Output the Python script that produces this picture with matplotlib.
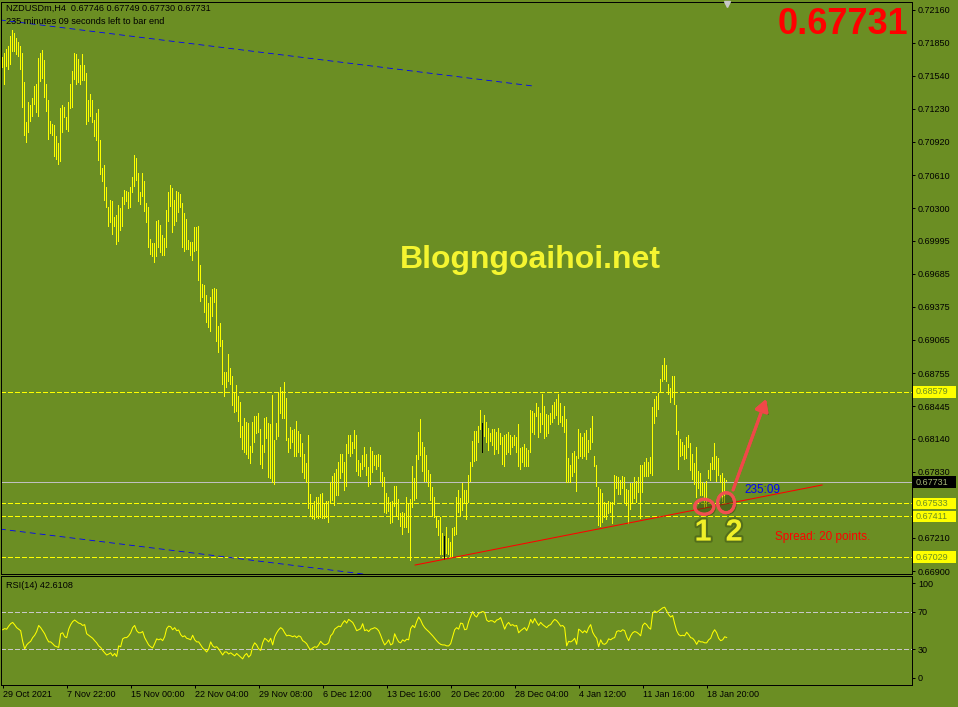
import matplotlib
matplotlib.use("Agg")
import matplotlib.pyplot as plt
import matplotlib.patheffects as pe
from matplotlib.patches import Ellipse, Rectangle, FancyArrowPatch
from matplotlib.transforms import blended_transform_factory

plt.rcParams['font.family'] = ['Liberation Sans', 'DejaVu Sans']

# NZDUSD H4 bars, prices in 1e-4 units (7172 -> 0.7172)
highs = [
    7172, 7175, 7179, 7182, 7191, 7197, 7194, 7189, 7186, 7182,
    7175, 7148, 7111, 7129, 7127, 7133, 7144, 7146, 7171, 7175,
    7178, 7169, 7146, 7131, 7112, 7109, 7108, 7098, 7091, 7124,
    7127, 7125, 7115, 7129, 7146, 7158, 7175, 7174, 7170, 7164,
    7174, 7164, 7157, 7131, 7137, 7131, 7113, 7119, 7123, 7094,
    7068, 7070, 7050, 7031, 7038, 7037, 7022, 7024, 7033, 7030,
    7040, 7047, 7046, 7045, 7050, 7059, 7080, 7077, 7063, 7045,
    7063, 7055, 7035, 7031, 7001, 6997, 6997, 7018, 7019, 7014,
    7005, 7002, 7028, 7045, 7052, 7049, 7038, 7046, 7045, 7043,
    7035, 7025, 7020, 7000, 6998, 6998, 7012, 7012, 7013, 6977,
    6959, 6958, 6949, 6941, 6947, 6954, 6955, 6954, 6920, 6922,
    6906, 6876, 6876, 6893, 6880, 6873, 6858, 6864, 6854, 6848,
    6826, 6833, 6830, 6829, 6807, 6830, 6835, 6835, 6838, 6823,
    6808, 6833, 6834, 6829, 6828, 6855, 6813, 6829, 6858, 6862,
    6859, 6867, 6852, 6815, 6825, 6822, 6823, 6831, 6821, 6818,
    6810, 6800, 6791, 6817, 6762, 6752, 6756, 6759, 6759, 6762,
    6763, 6754, 6756, 6756, 6773, 6779, 6782, 6786, 6792, 6800,
    6800, 6792, 6809, 6817, 6817, 6811, 6822, 6817, 6794, 6791,
    6799, 6806, 6800, 6787, 6806, 6802, 6799, 6799, 6800, 6799,
    6783, 6778, 6763, 6759, 6755, 6756, 6770, 6770, 6757, 6744,
    6745, 6744, 6759, 6754, 6757, 6788, 6777, 6799, 6820, 6832,
    6811, 6806, 6799, 6785, 6781, 6769, 6759, 6742, 6738, 6741,
    6726, 6723, 6731, 6721, 6717, 6730, 6731, 6759, 6766, 6758,
    6772, 6766, 6766, 6780, 6792, 6812, 6821, 6821, 6826, 6841,
    6829, 6836, 6830, 6824, 6819, 6823, 6823, 6820, 6824, 6819,
    6816, 6817, 6818, 6820, 6817, 6816, 6817, 6816, 6828, 6805,
    6806, 6809, 6805, 6803, 6841, 6840, 6838, 6847, 6844, 6838,
    6856, 6845, 6837, 6836, 6838, 6846, 6848, 6851, 6856, 6847,
    6835, 6845, 6832, 6796, 6789, 6801, 6802, 6798, 6823, 6819,
    6816, 6819, 6822, 6813, 6824, 6835, 6798, 6789, 6769, 6767,
    6763, 6755, 6754, 6756, 6755, 6755, 6780, 6779, 6778, 6775,
    6779, 6778, 6767, 6766, 6772, 6772, 6778, 6774, 6778, 6789,
    6789, 6792, 6796, 6792, 6797, 6844, 6851, 6854, 6857, 6870,
    6883, 6890, 6883, 6865, 6861, 6873, 6873, 6846, 6821, 6814,
    6811, 6808, 6816, 6817, 6810, 6800, 6791, 6806, 6784, 6782,
    6773, 6772, 6774, 6785, 6791, 6797, 6810, 6798, 6796, 6780,
    6782, 6777, 6775,
]
lows = [
    7161, 7145, 7162, 7159, 7164, 7176, 7176, 7173, 7172, 7159,
    7124, 7098, 7091, 7100, 7111, 7115, 7127, 7119, 7115, 7148,
    7151, 7133, 7120, 7094, 7099, 7098, 7078, 7075, 7070, 7073,
    7100, 7114, 7103, 7101, 7123, 7124, 7150, 7145, 7147, 7145,
    7149, 7149, 7108, 7111, 7115, 7110, 7097, 7093, 7074, 7061,
    7054, 7037, 7030, 7012, 7016, 7005, 7012, 6995, 6998, 7009,
    7012, 7033, 7036, 7029, 7030, 7044, 7050, 7055, 7036, 7033,
    7040, 7026, 7016, 6993, 6986, 6984, 6979, 6984, 6993, 6988,
    6985, 6985, 6993, 7017, 7031, 7007, 7013, 7017, 7025, 7030,
    6993, 6989, 6991, 6991, 6985, 6980, 6989, 6990, 6962, 6942,
    6946, 6932, 6922, 6918, 6914, 6928, 6941, 6905, 6894, 6900,
    6864, 6853, 6861, 6867, 6864, 6845, 6838, 6839, 6830, 6815,
    6803, 6801, 6799, 6795, 6790, 6801, 6810, 6818, 6819, 6789,
    6786, 6801, 6814, 6777, 6776, 6772, 6771, 6813, 6816, 6837,
    6832, 6832, 6812, 6801, 6804, 6810, 6797, 6797, 6801, 6797,
    6782, 6776, 6772, 6748, 6741, 6739, 6738, 6740, 6739, 6740,
    6739, 6739, 6740, 6735, 6753, 6756, 6751, 6760, 6760, 6776,
    6782, 6765, 6769, 6800, 6797, 6800, 6804, 6783, 6779, 6778,
    6785, 6787, 6779, 6769, 6771, 6782, 6788, 6785, 6787, 6773,
    6769, 6744, 6743, 6745, 6734, 6735, 6750, 6741, 6738, 6731,
    6724, 6730, 6730, 6726, 6699, 6749, 6756, 6757, 6794, 6798,
    6783, 6773, 6773, 6769, 6756, 6742, 6740, 6730, 6723, 6705,
    6705, 6700, 6706, 6705, 6703, 6703, 6723, 6724, 6744, 6741,
    6746, 6753, 6738, 6754, 6773, 6787, 6792, 6793, 6810, 6822,
    6801, 6816, 6810, 6802, 6811, 6807, 6799, 6803, 6800, 6808,
    6789, 6787, 6799, 6801, 6799, 6805, 6807, 6801, 6787, 6785,
    6791, 6787, 6787, 6787, 6801, 6819, 6817, 6834, 6815, 6819,
    6827, 6814, 6816, 6818, 6827, 6829, 6832, 6835, 6827, 6829,
    6825, 6819, 6772, 6772, 6772, 6778, 6782, 6764, 6795, 6797,
    6795, 6797, 6794, 6801, 6803, 6810, 6787, 6769, 6732, 6731,
    6735, 6740, 6738, 6743, 6744, 6734, 6752, 6767, 6761, 6761,
    6767, 6754, 6751, 6734, 6747, 6753, 6757, 6754, 6763, 6739,
    6763, 6778, 6778, 6778, 6781, 6779, 6828, 6834, 6841, 6858,
    6867, 6869, 6867, 6855, 6847, 6852, 6846, 6817, 6785, 6797,
    6798, 6794, 6795, 6805, 6784, 6775, 6771, 6758, 6767, 6760,
    6760, 6749, 6750, 6776, 6774, 6785, 6785, 6773, 6779, 6772,
    6755, 6753, 6773,
]
rsi = [
    50.8, 52.0, 51.4, 54.6, 57.2, 58.5, 56.0, 53.0, 51.4, 49.8,
    38.6, 30.6, 34.8, 37.0, 38.6, 42.5, 45.0, 48.9, 55.3, 53.0,
    49.8, 46.6, 41.8, 38.0, 38.0, 36.1, 33.8, 32.9, 32.2, 46.6,
    47.6, 43.4, 42.5, 51.4, 56.2, 59.4, 61.0, 59.4, 57.8, 57.2,
    55.3, 56.2, 46.6, 45.0, 43.4, 41.8, 39.3, 37.0, 33.8, 32.2,
    29.0, 26.5, 24.2, 25.2, 26.5, 23.3, 25.8, 22.6, 33.8, 32.9,
    41.2, 42.5, 42.5, 44.4, 47.6, 53.0, 55.3, 49.8, 47.6, 47.6,
    48.9, 42.5, 38.6, 34.8, 32.9, 31.6, 36.1, 41.2, 40.2, 41.2,
    39.3, 43.4, 52.0, 54.6, 54.0, 50.8, 53.0, 49.8, 50.5, 45.7,
    43.4, 44.4, 41.8, 41.2, 40.2, 45.0, 40.2, 38.0, 38.0, 34.8,
    31.6, 29.7, 27.4, 30.6, 38.0, 33.8, 32.2, 32.9, 30.6, 27.4,
    24.2, 27.4, 27.4, 25.2, 26.5, 24.9, 23.3, 25.8, 23.9, 22.0,
    20.1, 23.9, 25.8, 22.0, 24.2, 32.9, 37.0, 34.8, 30.6, 29.0,
    37.0, 41.8, 40.2, 38.0, 41.8, 34.8, 43.4, 47.6, 50.8, 53.0,
    51.4, 47.6, 44.4, 45.0, 44.4, 43.4, 44.4, 42.5, 44.4, 43.4,
    39.3, 38.0, 36.1, 32.2, 29.7, 31.6, 32.9, 32.2, 34.8, 38.6,
    36.1, 34.8, 35.4, 37.0, 44.4, 46.6, 51.4, 53.0, 54.6, 54.0,
    57.8, 60.4, 57.8, 61.7, 60.1, 58.5, 54.6, 49.8, 50.8, 52.0,
    57.2, 49.8, 50.8, 48.9, 51.4, 52.0, 53.0, 52.0, 49.8, 45.0,
    39.3, 34.8, 37.0, 40.2, 34.8, 36.1, 46.6, 41.8, 38.0, 37.0,
    40.2, 38.6, 40.9, 40.2, 52.0, 55.3, 53.0, 59.4, 64.2, 61.0,
    56.2, 53.0, 50.8, 48.9, 46.6, 44.4, 41.8, 39.3, 37.0, 35.4,
    34.8, 34.8, 33.8, 33.8, 36.1, 43.4, 50.8, 53.0, 51.4, 57.8,
    57.2, 50.8, 51.4, 59.4, 64.9, 70.0, 65.8, 64.2, 68.1, 69.0,
    70.0, 69.0, 61.0, 59.4, 60.4, 60.1, 58.5, 61.0, 61.7, 63.6,
    57.8, 51.4, 56.2, 58.5, 55.3, 56.2, 54.6, 55.3, 47.6, 49.8,
    51.4, 53.0, 49.8, 54.6, 61.7, 57.8, 62.6, 58.5, 55.3, 58.5,
    56.2, 54.6, 53.0, 55.3, 56.2, 59.4, 61.7, 60.4, 57.8, 54.6,
    55.3, 53.0, 33.8, 38.6, 38.0, 39.3, 41.8, 35.4, 51.4, 49.8,
    47.6, 49.8, 47.6, 53.0, 56.2, 48.2, 44.4, 41.8, 32.9, 40.2,
    36.1, 35.4, 37.0, 41.2, 40.2, 41.8, 42.5, 48.9, 49.8, 48.9,
    50.8, 49.8, 43.4, 39.3, 44.4, 47.6, 48.9, 48.2, 46.6, 44.4,
    55.3, 57.8, 56.2, 53.0, 51.4, 68.1, 70.6, 69.0, 70.6, 72.2,
    73.8, 74.5, 70.6, 66.8, 64.2, 65.8, 57.2, 49.8, 45.7, 44.4,
    45.0, 44.4, 48.2, 45.7, 42.5, 41.8, 39.3, 35.4, 39.3, 38.0,
    38.0, 37.0, 37.0, 40.2, 41.8, 47.6, 50.8, 47.6, 41.8, 39.3,
    40.2, 43.4, 42.6,
]
black_bars = [221, 240]

price_ticks = [0.72160, 0.71850, 0.71540, 0.71230, 0.70920, 0.70610, 0.70300,
               0.69995, 0.69685, 0.69375, 0.69065, 0.68755, 0.68445, 0.68140,
               0.67830, 0.67210, 0.66900]
rsi_ticks = [0, 30, 70, 100]
time_ticks = [0, 32, 64, 96, 128, 160, 192, 224, 256, 288, 320, 352]
time_labels = ["29 Oct 2021", "7 Nov 22:00", "15 Nov 00:00", "22 Nov 04:00",
               "29 Nov 08:00", "6 Dec 12:00", "13 Dec 16:00", "20 Dec 20:00",
               "28 Dec 04:00", "4 Jan 12:00", "11 Jan 16:00", "18 Jan 20:00"]
levels = [0.68579, 0.67533, 0.67411, 0.67029]
last_price = 0.67731

# trend lines (bar index, price)
channel_top = ([-1.33, 265.2], [0.72063, 0.71444])
channel_bottom = ([-1.33, 200.0], [0.67293, 0.66826])
support = ([206.2, 409.7], [0.66956, 0.67706])
arrow_pts = ((365.2, 0.67660), (381.7, 0.68511))
circles = [(350.8, 0.67502, 9.5, 0.00140), (361.7, 0.67540, 8.5, 0.00187)]

OLIVE = '#6b8e23'
W, H = 958, 707
PX = 0.72  # one pixel in points

fig = plt.figure(figsize=(W / 100, H / 100), dpi=100, facecolor=OLIVE)
ax = fig.add_axes([1 / W, 1 - 574 / H, 911 / W, 572 / H], facecolor=OLIVE)
ax2 = fig.add_axes([1 / W, 1 - 685 / H, 911 / W, 109 / H], facecolor=OLIVE)

xlim = (-0.835, 454.67)
for a in (ax, ax2):
    a.set_xlim(*xlim)
    for s in a.spines.values():
        s.set_color('black')
        s.set_linewidth(PX)

# ---- main price panel: one-pixel high/low bars ----
ax.set_ylim(0.66872, 0.72231)
x = list(range(len(highs)))
hi = [h / 10000 for h in highs]
lo = [l / 10000 for l in lows]
cols = ['black' if i in black_bars else '#ffff00' for i in x]
ax.bar(x, [h - l for h, l in zip(hi, lo)], bottom=lo, width=0.5, color=cols,
       linewidth=0, antialiased=False, zorder=3)

for lv in levels:
    ax.axhline(lv, color='#ffff00', lw=0.5, ls=(0, (6, 4)), antialiased=False, zorder=2)
ax.axhline(last_price, color='#c0c0c0', lw=0.5, antialiased=False, zorder=2)

for xs, ys in (channel_top, channel_bottom):
    ax.plot(xs, ys, color='#0000ff', lw=0.6, ls=(0, (7, 5)), zorder=2)
ax.plot(support[0], support[1], color='#ff0000', lw=0.75, zorder=4)

for cx, cy, w, h in circles:
    e = Ellipse((cx, cy), w, h, fill=False, edgecolor='#f05050', lw=2.2, zorder=6)
    e.set_path_effects([pe.withSimplePatchShadow(offset=(1.5, -1.5), shadow_rgbFace='#2f4010', alpha=0.45), pe.Normal()])
    ax.add_patch(e)

arr = FancyArrowPatch(arrow_pts[0], arrow_pts[1], arrowstyle='-|>,head_length=7,head_width=4',
                      color='#f04848', lw=2.2, mutation_scale=1, zorder=6, shrinkA=0, shrinkB=0)
arr.set_path_effects([pe.withSimplePatchShadow(offset=(1.5, -1.5), shadow_rgbFace='#2f4010', alpha=0.45), pe.Normal()])
ax.add_patch(arr)

num_fx = [pe.withStroke(linewidth=3, foreground='#4a6218', alpha=0.7)]
ax.text(350.2, 0.67260, '1', color='#f0f028', fontsize=22, fontweight='bold',
        ha='center', va='center', zorder=7, path_effects=num_fx)
ax.text(365.7, 0.67260, '2', color='#f0f028', fontsize=22, fontweight='bold',
        ha='center', va='center', zorder=7, path_effects=num_fx)

ax.yaxis.tick_right()
ax.set_yticks(price_ticks)
ax.set_yticklabels([f'{p:.5f}' for p in price_ticks])
ax.set_xticks([])
ax.tick_params(axis='y', direction='out', length=2.2, width=PX, colors='black',
               labelsize=6.5, pad=2)

# value tags on the price scale
tr = blended_transform_factory(ax.transAxes, ax.transData)
tag_h = 0.00110
for lv, face, txt in [(l, '#ffff00', OLIVE) for l in levels] + [(last_price, 'black', '#a8b878')]:
    ax.add_patch(Rectangle((1.0012, lv - tag_h / 2), 0.0472, tag_h, transform=tr,
                           facecolor=face, edgecolor='none', clip_on=False, zorder=8))
    ax.text(1.0045, lv, f'{lv:.5f}', transform=tr, color=txt, fontsize=6.5,
            va='center', ha='left', clip_on=False, zorder=9)

# ---- RSI panel ----
ax2.set_ylim(-7.4, 107.4)
ax2.plot(range(len(rsi)), rsi, color='#ffff00', lw=0.75, zorder=3)
for lv in (70, 30):
    ax2.axhline(lv, color='#c8c8c8', lw=0.5, ls=(0, (6, 4)), antialiased=False, zorder=2)
ax2.yaxis.tick_right()
ax2.set_yticks(rsi_ticks)
ax2.set_yticklabels([str(v) for v in rsi_ticks])
ax2.set_xticks(time_ticks)
ax2.set_xticklabels(time_labels)
ax2.tick_params(direction='out', length=2.2, width=PX, colors='black', labelsize=6.5, pad=2)
ax2.tick_params(axis='x', pad=1.5)
plt.setp(ax2.get_xticklabels(), ha='left')

# ---- texts ----
fig.text(6 / W, 1 - 8 / H, 'NZDUSDm,H4  0.67746 0.67749 0.67730 0.67731', fontsize=6.6,
         va='center', ha='left', color='black')
fig.text(6 / W, 1 - 22 / H, '235 minutes 09 seconds left to bar end', fontsize=6.6,
         va='center', ha='left', color='black')
fig.text(6 / W, 1 - 585 / H, 'RSI(14) 42.6108', fontsize=6.6, va='center', ha='left', color='black')
fig.text(908 / W, 1 - 25 / H, '0.67731', fontsize=26, fontweight='bold', color='#ff0000',
         ha='right', va='center')
fig.text(530 / W, 1 - 260 / H, 'Blogngoaihoi.net', fontsize=23, fontweight='bold',
         color='#f5f530', ha='center', va='center')
fig.text(775 / W, 1 - 537 / H, 'Spread: 20 points.', fontsize=8.5, color='#ff0000',
         ha='left', va='center')
fig.text(744 / W, 1 - 490 / H, '235:09', fontsize=8.5, color='#0000ff', ha='left', va='center')
ax.plot([727 / W], [1 - 4 / H], marker='v', ms=5, color='#c8c8c8', transform=fig.transFigure,
        clip_on=False, zorder=10)

fig.savefig('out.png', dpi=100, facecolor=OLIVE)
